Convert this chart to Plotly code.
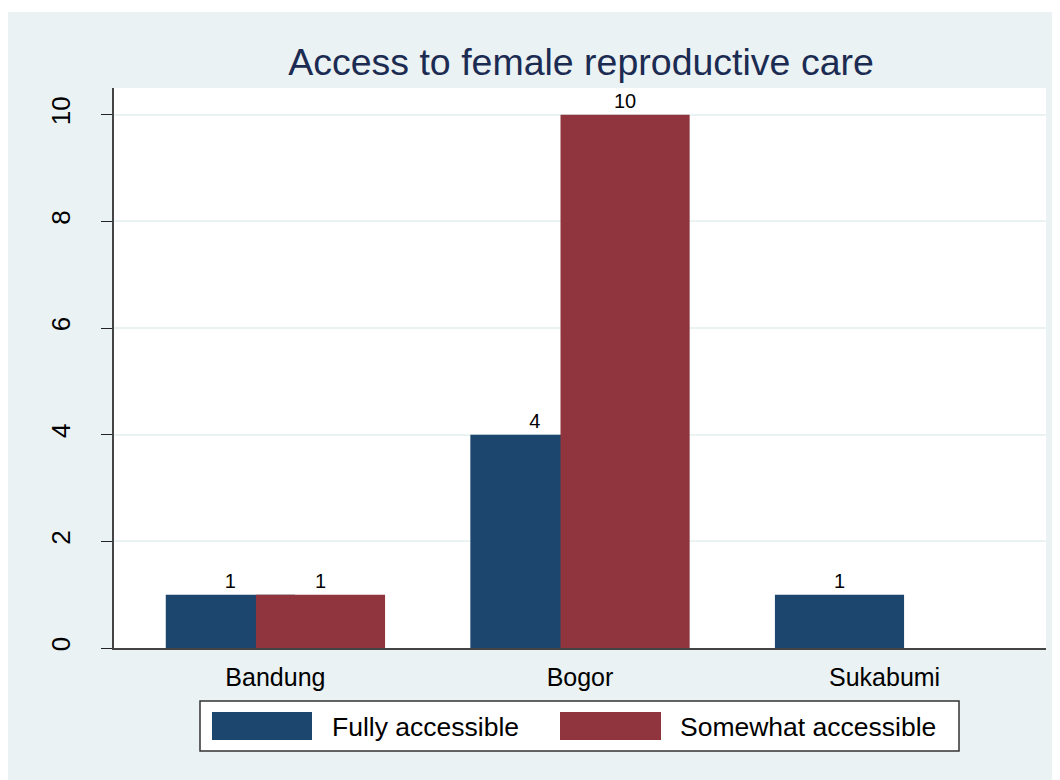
import plotly.graph_objects as go

regions = ["Bandung", "Bogor", "Sukabumi"]
fully = [1, 4, 1]
somewhat = [1, 10, None]
y_ticks = [0, 2, 4, 6, 8, 10]
series_names = ["Fully accessible", "Somewhat accessible"]

navy = "#1C466E"
maroon = "#90353D"
bg = "#EAF2F3"
font = "Liberation Sans, Arial, sans-serif"

# plot area inside the figure (pixels)
L, R, T, B = 106, 1038, 80, 640
W, H = 1060, 780


def px(x):
    return (x - L) / (R - L)


def py(y):
    return (B - y) / (B - T)


fig = go.Figure()
fig.add_trace(go.Bar(
    x=regions, y=fully, name=series_names[0],
    width=0.424, offset=-0.36,
    marker=dict(color=navy, line=dict(width=0)),
    text=[str(v) for v in fully], textposition="outside",
    textfont=dict(size=20, color="black", family=font),
    cliponaxis=False, showlegend=False,
))
fig.add_trace(go.Bar(
    x=regions, y=somewhat, name=series_names[1],
    width=0.424, offset=-0.064,
    marker=dict(color=maroon, line=dict(width=0)),
    text=["" if v is None else str(v) for v in somewhat], textposition="outside",
    textfont=dict(size=20, color="black", family=font),
    cliponaxis=False, showlegend=False,
))

# thin white strip at the very top
fig.add_shape(type="rect", xref="paper", yref="paper",
              x0=px(-10), x1=px(W + 10), y0=py(4), y1=py(-10),
              fillcolor="white", line=dict(width=0), layer="below")

# legend drawn by hand (Stata style wide swatches)
fig.add_shape(type="rect", xref="paper", yref="paper",
              x0=px(192), x1=px(951), y0=py(743), y1=py(693),
              fillcolor="white", line=dict(color="#333333", width=1.5), layer="above")
swatches = [(204, 304, 322, navy), (552, 653, 670, maroon)]
for (sx0, sx1, tx, col), name in zip(swatches, series_names):
    fig.add_shape(type="rect", xref="paper", yref="paper",
                  x0=px(sx0), x1=px(sx1), y0=py(732), y1=py(704),
                  fillcolor=col, line=dict(width=0), layer="above")
    fig.add_annotation(text=name, xref="paper", yref="paper",
                       x=px(tx), y=py(719), xanchor="left", yanchor="middle",
                       showarrow=False, font=dict(size=26.5, color="black", family=font))

fig.update_layout(
    width=W, height=H,
    margin=dict(l=L, r=W - R, t=T, b=H - B),
    paper_bgcolor=bg, plot_bgcolor="white",
    barmode="overlay",
    font=dict(family=font, color="black"),
    title=dict(text="Access to female reproductive care", x=573 / W, xanchor="center",
               y=1 - 54 / H, yanchor="middle",
               font=dict(size=37.5, color="#1C2B52", family=font)),
    showlegend=False,
    xaxis=dict(range=[-0.53, 2.53], showline=True, linecolor="#444444", linewidth=1.5,
               ticks="", tickfont=dict(size=25, color="black"), showgrid=False,
               ticklabelstandoff=6),
    yaxis=dict(range=[0, 10.5], tickvals=y_ticks, showline=True, linecolor="#444444",
               linewidth=1.5, ticks="outside", ticklen=11, tickcolor="#222222",
               tickangle=-90, tickfont=dict(size=26, color="black"),
               ticklabelstandoff=21,
               showgrid=True, gridcolor=bg, gridwidth=2, zeroline=False),
)

fig.write_html("out.html")
